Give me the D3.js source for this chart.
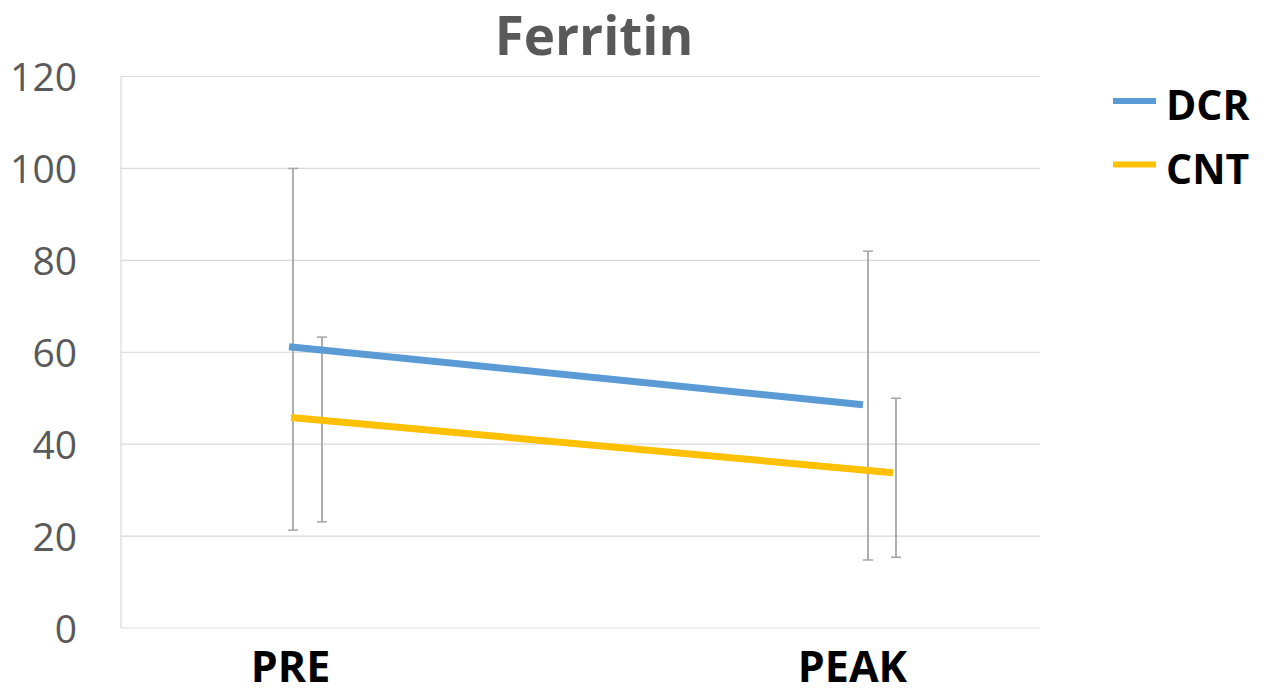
<!DOCTYPE html>
<html>
<head>
<meta charset="utf-8">
<script src="https://cdn.jsdelivr.net/npm/d3@7"></script>
<style>
  html, body { margin: 0; padding: 0; background: #fff; }
  svg { display: block; font-family: "Open Sans", sans-serif; }
</style>
</head>
<body>
<svg id="chart" width="1266" height="688"></svg>
<script>
// ---- data ----
const title = "Ferritin";
const categories = ["PRE", "PEAK"];
const seriesNames = ["DCR", "CNT"];
const dcrValues = [61.2, 48.6];
const dcrUpper = [100, 82.0];
const dcrLower = [21.3, 14.8];
const cntValues = [45.8, 33.8];
const cntUpper = [63.3, 50.0];
const cntLower = [23.1, 15.4];
const yTicks = [0, 20, 40, 60, 80, 100, 120];

// ---- layout / style ----
const W = 1266, H = 688;
const plot = { left: 121, right: 1040, top: 76.5, bottom: 628 };
const colors = { DCR: "#5b9bd5", CNT: "#ffc000" };
// per-series horizontal offsets (px) of line ends and error bars, per category
const lineOffset = { DCR: [-1, 11], CNT: [1, 41] };
const barOffset = { DCR: [3, 16], CNT: [32, 44] };

const series = [
  { name: seriesNames[0], values: dcrValues, upper: dcrUpper, lower: dcrLower },
  { name: seriesNames[1], values: cntValues, upper: cntUpper, lower: cntLower }
];

const svg = d3.select("#chart");

const x = d3.scalePoint().domain(categories).range([290, 852]);
const y = d3.scaleLinear().domain([0, 120]).range([plot.bottom, plot.top]);

// gridlines
svg.append("g")
  .selectAll("line")
  .data(yTicks)
  .join("line")
  .attr("x1", plot.left).attr("x2", plot.right)
  .attr("y1", d => y(d)).attr("y2", d => y(d))
  .attr("stroke", "#d9d9d9").attr("stroke-width", 1.2);

// y axis line
svg.append("line")
  .attr("x1", plot.left).attr("x2", plot.left)
  .attr("y1", y(120)).attr("y2", y(0))
  .attr("stroke", "#d9d9d9").attr("stroke-width", 1.2);

// y axis labels
const yAxis = d3.axisLeft(y).tickValues(yTicks).tickSize(0).tickPadding(0);
const yg = svg.append("g").attr("transform", `translate(77,0)`).call(yAxis);
yg.select(".domain").remove();
yg.selectAll("text")
  .attr("font-family", "'Open Sans', sans-serif")
  .attr("font-size", 39)
  .attr("fill", "#595959")
  .attr("dy", "0.36em");

// x axis labels
const xAxis = d3.axisBottom(x).tickSize(0).tickPadding(0);
const xg = svg.append("g").attr("transform", `translate(0,${plot.bottom})`).call(xAxis);
xg.select(".domain").remove();
xg.selectAll("text")
  .attr("font-family", "'Open Sans', sans-serif")
  .attr("font-size", 43)
  .attr("font-weight", "bold")
  .attr("fill", "#000")
  .attr("dy", 0)
  .attr("y", 54);

// error bars
const capW = 5;
series.forEach(s => {
  const g = svg.append("g");
  categories.forEach((c, i) => {
    const bx = x(c) + barOffset[s.name][i];
    g.append("line")
      .attr("x1", bx).attr("x2", bx)
      .attr("y1", y(s.upper[i])).attr("y2", y(s.lower[i]))
      .attr("stroke", "#a6a6a6").attr("stroke-width", 1.8);
    [s.upper[i], s.lower[i]].forEach(v => {
      g.append("line")
        .attr("x1", bx - capW).attr("x2", bx + capW)
        .attr("y1", y(v)).attr("y2", y(v))
        .attr("stroke", "#a6a6a6").attr("stroke-width", 1.5);
    });
  });
});

// lines
const line = d3.line()
  .x(d => x(d.c) + d.off)
  .y(d => y(d.v));
series.forEach(s => {
  const pts = categories.map((c, i) => ({ c, v: s.values[i], off: lineOffset[s.name][i] }));
  svg.append("path")
    .datum(pts)
    .attr("d", line)
    .attr("fill", "none")
    .attr("stroke", colors[s.name])
    .attr("stroke-width", 7);
});

// title
svg.append("text")
  .attr("x", 594).attr("y", 55)
  .attr("text-anchor", "middle")
  .attr("font-family", "'Open Sans', sans-serif")
  .attr("font-size", 53)
  .attr("font-weight", "bold")
  .attr("fill", "#595959")
  .text(title);

// legend
const legend = svg.append("g");
series.forEach((s, i) => {
  const ly = 101 + i * 63.5;
  legend.append("line")
    .attr("x1", 1113).attr("x2", 1156)
    .attr("y1", ly).attr("y2", ly)
    .attr("stroke", colors[s.name]).attr("stroke-width", 6);
  legend.append("text")
    .attr("x", 1166).attr("y", ly + 19)
    .attr("font-family", "'Open Sans', sans-serif")
    .attr("font-size", 41)
    .attr("font-weight", "bold")
    .attr("fill", "#000")
    .text(s.name);
});
</script>
</body>
</html>
